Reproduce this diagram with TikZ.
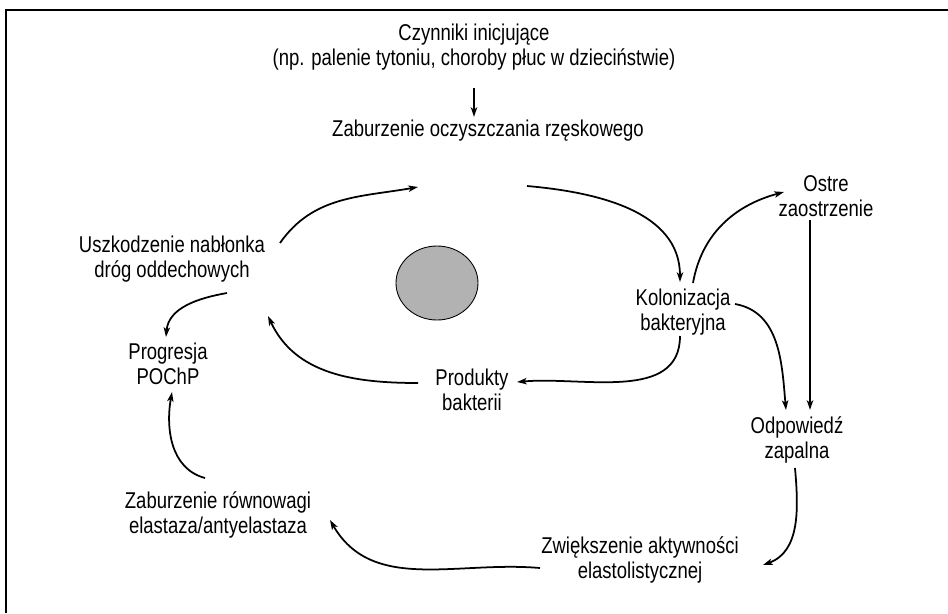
\documentclass[tikz,border=0pt]{standalone}
\usepackage{fontspec}
\setmainfont{Liberation Sans}[FakeStretch=0.81]
\usepackage{tikz}
\usetikzlibrary{arrows.meta,calc}

\begin{document}
\begin{tikzpicture}[x=0.02cm,y=0.02cm,>={Stealth[length=5.5pt,width=3.6pt,inset=1.4pt]},
  lbl/.style={align=center,inner sep=0pt,font=\fontsize{13}{14.2}\selectfont},
  arr/.style={->,line width=1pt}]
\useasboundingbox (0,0) rectangle (948,-613);
% frame
\draw[line width=1.3pt] (6,-613)--(6,-10)--(948,-10);
% labels
\node[lbl] (init) at (474,-47) {Czynniki inicjujące\\(np. palenie tytoniu, choroby płuc w dzieciństwie)};
\node[lbl] (clear) at (488,-131) {Zaburzenie oczyszczania rzęskowego};
\node[lbl] (damage) at (172,-259) {Uszkodzenie nabłonka\\dróg oddechowych};
\node[lbl] (colon) at (683,-312) {Kolonizacja\\bakteryjna};
\node[lbl] (exac) at (826,-196) {Ostre\\zaostrzenie};
\node[lbl] (prog) at (168,-364) {Progresja\\POChP};
\node[lbl] (prod) at (472,-390) {Produkty\\bakterii};
\node[lbl] (infl) at (797,-440) {Odpowiedź\\zapalna};
\node[lbl] (imbal) at (218,-515) {Zaburzenie równowagi\\elastaza/antyelastaza};
\node[lbl] (elast) at (640,-560) {Zwiększenie aktywności\\elastolistycznej};
\draw[fill=gray!60,line width=0.5pt] (437,-283) ellipse (41 and 37);
% arrows
\draw[arr] ($(init)+(0,-41)$) -- ($(clear)+(-14,14)$);
\draw[arr] ($(damage)+(108,16)$) to[out=55,in=190] ($(clear)+(-70,-56)$);
\draw[arr] ($(clear)+(39,-55)$) to[out=-5,in=90] ($(colon)+(-3,30)$);
\draw[arr] ($(colon)+(10,29)$) to[out=80,in=195] ($(exac)+(-42,4)$);
\draw[arr] ($(exac)+(-16,-24)$) -- ($(infl)+(13,30)$);
\draw[arr] ($(colon)+(52,8)$) to[out=-10,in=95] ($(infl)+(-11,30)$);
\draw[arr] ($(colon)+(-3,-24)$) to[out=-90,in=5] ($(prod)+(45,8)$);
\draw[arr] ($(prod)+(-54,7)$) to[out=180,in=-65] ($(damage)+(96,-57)$);
\draw[arr] ($(damage)+(55,-34)$) to[out=190,in=85] ($(prog)+(-2,27)$);
\draw[arr] ($(infl)+(-2,-28)$) to[out=-85,in=20] ($(elast)+(123,-5)$);
\draw[arr] ($(elast)+(-100,-8)$) to[out=175,in=-60] ($(imbal)+(112,-5)$);
\draw[arr] ($(imbal)+(-13,37)$) to[out=165,in=-100] ($(prog)+(4,-28)$);
\end{tikzpicture}
\end{document}
